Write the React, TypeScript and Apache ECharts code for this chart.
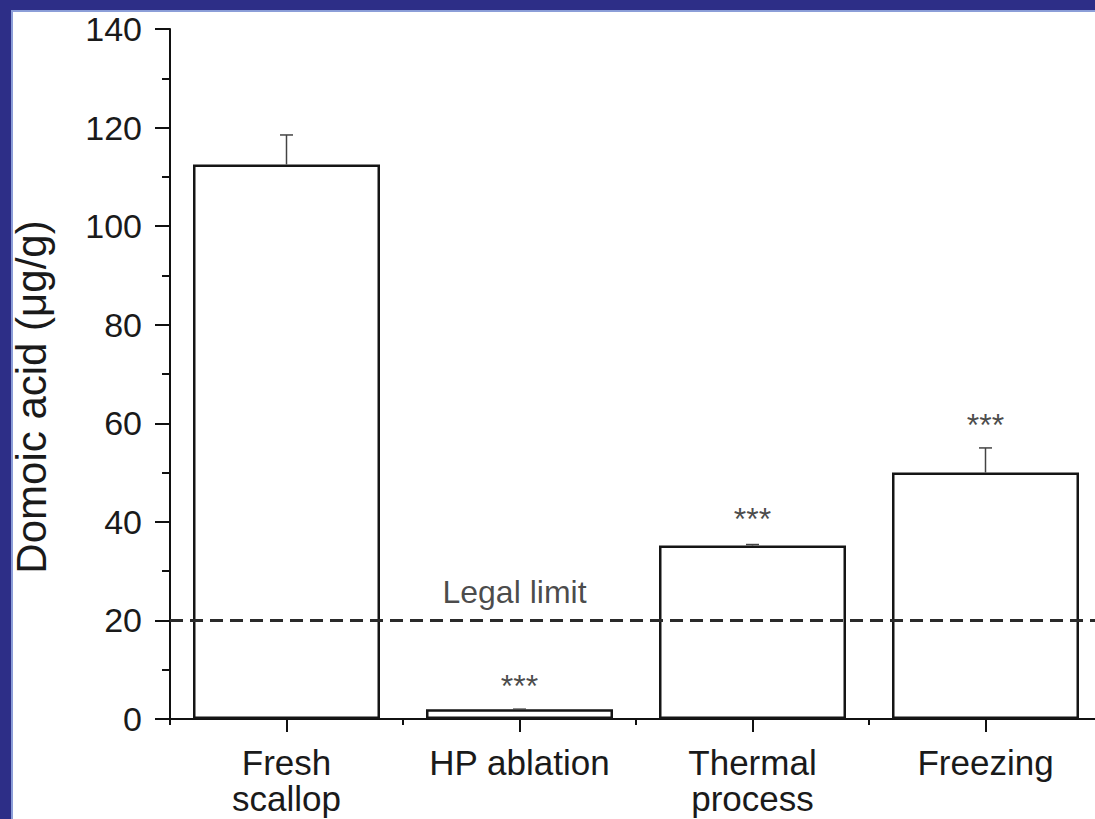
import React, { useEffect, useRef } from "react";
import * as echarts from "echarts";

const categories = ["Fresh\nscallop", "HP ablation", "Thermal\nprocess", "Freezing"];
const means = [112.5, 2, 35.2, 50];
const errTops = [118.5, 2, 35.4, 55];
const starIdx = [1, 2, 3];
const starPos = [6.7, 40.6, 59.6];
const legalLimit = 20;
const legalLabelPos = 25.8;
const yTicks = { min: 0, max: 140, interval: 20 };

const FONT = "'Liberation Sans', Arial, Helvetica, sans-serif";

export default function App() {
  const ref = useRef<HTMLDivElement>(null);
  useEffect(() => {
    if (!ref.current) return;
    const chart = echarts.init(ref.current, null, { renderer: "svg" });
    const errData = means.map((m, i) => [i, m, errTops[i]]);
    const starData = starIdx.map((c, i) => [c, starPos[i]]);
    chart.setOption({
      animation: false,
      backgroundColor: "#ffffff",
      textStyle: { fontFamily: FONT },
      graphic: [
        { type: "rect", z: -10, shape: { x: 0, y: 0, width: 1120, height: 819 }, style: { fill: "#2D2E87" } },
        { type: "rect", z: -9, shape: { x: 11, y: 10, width: 1109, height: 809 }, style: { fill: "#8C9ED8" } },
        { type: "rect", z: -8, shape: { x: 13, y: 12, width: 1107, height: 807 }, style: { fill: "#ffffff" } },
      ],
      grid: { left: 170, top: 29, width: 932, height: 690, containLabel: false },
      xAxis: [
        {
          type: "category",
          data: categories,
          position: "bottom",
          axisLine: { show: true, lineStyle: { color: "#111", width: 2 } },
          axisTick: { show: true, alignWithLabel: true, length: 13, lineStyle: { color: "#111", width: 2 } },
          axisLabel: { fontSize: 35, lineHeight: 36, color: "#1a1a1a", margin: 25, fontFamily: FONT, interval: 0 },
          splitLine: { show: false },
        },
        {
          type: "category",
          data: categories,
          position: "bottom",
          axisLine: { show: false },
          axisTick: { show: true, alignWithLabel: false, length: 6, lineStyle: { color: "#111", width: 2 } },
          axisLabel: { show: false },
          splitLine: { show: false },
        },
      ],
      yAxis: {
        type: "value",
        min: yTicks.min,
        max: yTicks.max,
        interval: yTicks.interval,
        name: "Domoic acid (μg/g)",
        nameLocation: "middle",
        nameRotate: 90,
        nameGap: 118,
        nameTextStyle: { fontSize: 42, color: "#1a1a1a", fontFamily: FONT, padding: [0, 46, 0, 0] },
        axisLine: { show: true, lineStyle: { color: "#111", width: 2 } },
        axisTick: { show: true, length: 15, lineStyle: { color: "#111", width: 2 } },
        minorTick: { show: true, splitNumber: 2, length: 8, lineStyle: { color: "#111", width: 2 } },
        axisLabel: { fontSize: 34, color: "#1a1a1a", margin: 28, fontFamily: FONT },
        splitLine: { show: false },
        minorSplitLine: { show: false },
      },
      series: [
        {
          type: "bar",
          data: means,
          barWidth: 187,
          itemStyle: { color: "#ffffff", borderColor: "#151515", borderWidth: 2.5 },
          markLine: {
            silent: true,
            symbol: "none",
            label: { show: false },
            lineStyle: { type: [13, 7], color: "#2a2a2a", width: 3 },
            data: [{ yAxis: legalLimit }],
          },
          z: 2,
        },
        {
          type: "custom",
          data: errData,
          z: 3,
          renderItem: (params: any, api: any) => {
            const idx = api.value(0);
            const base = api.coord([idx, api.value(1)]);
            const top = api.coord([idx, api.value(2)]);
            const hw = 6.5;
            return {
              type: "group",
              children: [
                { type: "line", shape: { x1: base[0], y1: base[1], x2: top[0], y2: top[1] }, style: { stroke: "#444", lineWidth: 1.5 } },
                { type: "line", shape: { x1: top[0] - hw, y1: top[1], x2: top[0] + hw, y2: top[1] }, style: { stroke: "#444", lineWidth: 1.5 } },
              ],
            };
          },
        },
        {
          type: "scatter",
          data: starData,
          symbol: "circle",
          symbolSize: 1,
          itemStyle: { color: "rgba(0,0,0,0)" },
          label: { show: true, position: "inside", formatter: "***", fontSize: 32, color: "#1a1a1a", fontFamily: FONT },
          z: 4,
        },
        {
          type: "scatter",
          data: [[1, legalLabelPos]],
          symbol: "circle",
          symbolSize: 1,
          itemStyle: { color: "rgba(0,0,0,0)" },
          label: { show: true, position: "inside", formatter: "Legal limit", fontSize: 32, color: "#1a1a1a", fontFamily: FONT, offset: [-5, 0] },
          z: 4,
        },
      ],
    });
    return () => chart.dispose();
  }, []);
  return (
    <div style={{ position: "fixed", left: 0, top: 0, width: 1095, height: 819, overflow: "hidden" }}>
      <div ref={ref} style={{ position: "absolute", left: 0, top: 0, width: 1120, height: 819 }} />
    </div>
  );
}
